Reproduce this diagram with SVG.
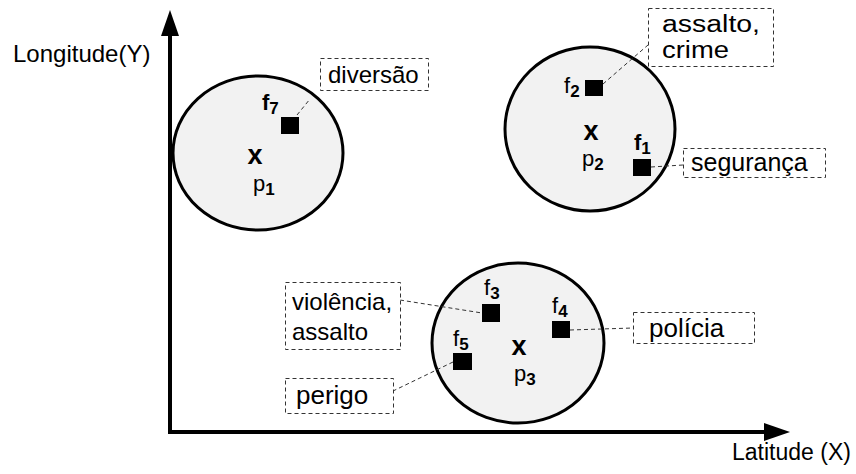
<svg xmlns="http://www.w3.org/2000/svg" width="856" height="474" viewBox="0 0 856 474">
<style>
text{font-family:"Liberation Sans",Arial,sans-serif;fill:#000}
.fl{font-size:22px}
.sub{font-size:17px;font-weight:bold}
.b{font-weight:bold}
.mk{font-size:27px;font-weight:bold}
.cl{fill:#f2f2f2;stroke:#000;stroke-width:3}
.sq{fill:#000}
.bx{fill:#fff;stroke:#333;stroke-width:1;stroke-dasharray:4 3}
.cn{stroke:#333;stroke-width:1;stroke-dasharray:4 3;fill:none}
.axis{stroke:#000;stroke-width:4;fill:none}
</style>
<defs>
<marker id="ah" viewBox="0 0 26 18" refX="0" refY="9" markerWidth="26" markerHeight="18" markerUnits="userSpaceOnUse" orient="auto">
<path d="M0,0 L26,9 L0,18 Z" fill="#000"/>
</marker>
</defs>
<g id="axes">
<line class="axis" x1="170" y1="434" x2="170" y2="36" marker-end="url(#ah)"/>
<line class="axis" x1="168" y1="432" x2="764" y2="432" marker-end="url(#ah)"/>
<text x="13" y="62" font-size="24">Longitude(Y)</text>
<text x="732" y="460" font-size="23">Latitude (X)</text>
</g>
<g id="cluster1">
<ellipse class="cl" cx="258" cy="153" rx="85" ry="77"/>
<text class="mk" x="255" y="164" text-anchor="middle">x</text>
<text class="fl" x="253" y="191">p<tspan class="sub" dy="4">1</tspan></text>
</g>
<g id="cluster2">
<ellipse class="cl" cx="590" cy="129" rx="85" ry="82"/>
<text class="mk" x="591" y="140" text-anchor="middle">x</text>
<text class="fl" x="582" y="166">p<tspan class="sub" dy="4">2</tspan></text>
</g>
<g id="cluster3">
<ellipse class="cl" cx="518" cy="343" rx="86" ry="80"/>
<text class="mk" x="519" y="355" text-anchor="middle">x</text>
<text class="fl" x="514" y="381">p<tspan class="sub" dy="4">3</tspan></text>
</g>
<g id="connectors">
<line class="cn" x1="297" y1="115" x2="310" y2="99"/>
<line class="cn" x1="603" y1="84" x2="648" y2="45"/>
<line class="cn" x1="651" y1="167" x2="683" y2="165"/>
<line class="cn" x1="400" y1="300" x2="482" y2="313"/>
<line class="cn" x1="570" y1="330" x2="633" y2="328"/>
<line class="cn" x1="453" y1="362" x2="393" y2="391"/>
</g>
<g id="f7">
<rect class="sq" x="281" y="117" width="18" height="17"/>
<text class="fl b" x="262" y="110">f<tspan class="sub" dy="4">7</tspan></text>
</g>
<g id="f2">
<rect class="sq" x="585" y="80" width="18" height="16"/>
<text class="fl" x="564" y="93">f<tspan class="sub" dy="4">2</tspan></text>
</g>
<g id="f1">
<rect class="sq" x="633" y="159" width="18" height="17"/>
<text class="fl b" x="634" y="150">f<tspan class="sub" dy="4">1</tspan></text>
</g>
<g id="f3">
<rect class="sq" x="482" y="304" width="18" height="18"/>
<text class="fl" x="484" y="295">f<tspan class="sub" dy="4">3</tspan></text>
</g>
<g id="f4">
<rect class="sq" x="552" y="321" width="18" height="17"/>
<text class="fl" x="552" y="313">f<tspan class="sub" dy="4">4</tspan></text>
</g>
<g id="f5">
<rect class="sq" x="453" y="353" width="19" height="17"/>
<text class="fl" x="453" y="346">f<tspan class="sub" dy="4">5</tspan></text>
</g>
<g id="lbl-diversao">
<rect class="bx" x="320.5" y="58.5" width="108" height="32"/>
<text x="328" y="83" font-size="24">diversão</text>
</g>
<g id="lbl-assalto-crime">
<rect class="bx" x="648.5" y="8.5" width="125" height="58"/>
<text x="662" y="32" font-size="23" textLength="98" lengthAdjust="spacingAndGlyphs">assalto,</text>
<text x="662" y="58" font-size="23" textLength="67" lengthAdjust="spacingAndGlyphs">crime</text>
</g>
<g id="lbl-seguranca">
<rect class="bx" x="683.5" y="148.5" width="142" height="29"/>
<text x="691" y="171" font-size="25">segurança</text>
</g>
<g id="lbl-violencia-assalto">
<rect class="bx" x="285.5" y="282.5" width="115" height="67"/>
<text x="292" y="310" font-size="24">violência,</text>
<text x="292" y="340" font-size="24">assalto</text>
</g>
<g id="lbl-perigo">
<rect class="bx" x="285.5" y="378.5" width="108" height="35"/>
<text x="296" y="404" font-size="26">perigo</text>
</g>
<g id="lbl-policia">
<rect class="bx" x="633.5" y="312.5" width="121" height="31"/>
<text x="649" y="337" font-size="26">polícia</text>
</g>
</svg>
